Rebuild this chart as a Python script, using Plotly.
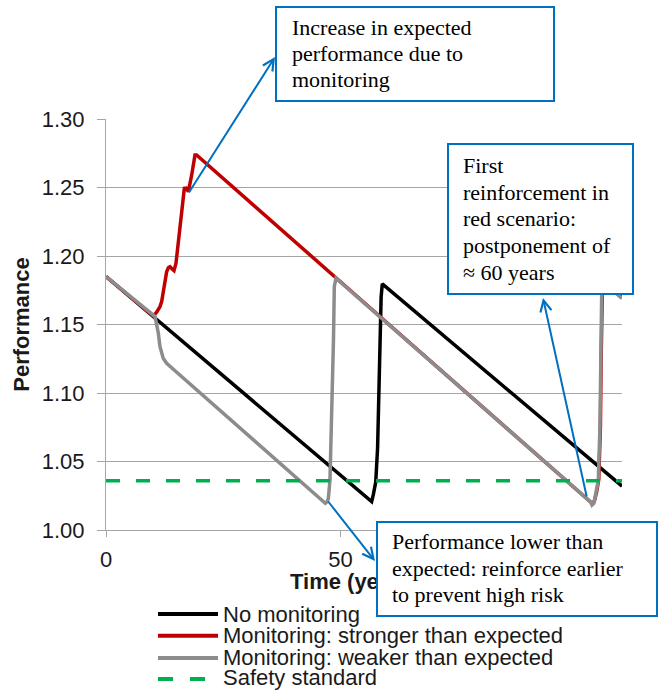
import plotly.graph_objects as go

# ---------------- data ----------------
no_monitoring_t = [0, 56.63, 57.0, 57.5, 57.9, 58.15, 58.4, 58.65, 58.9, 110]
no_monitoring_p = [1.185, 1.0207, 1.026, 1.035, 1.060, 1.100, 1.140, 1.170, 1.1796, 1.032]

stronger_t = [0, 10.09, 10.8, 11.5, 11.87, 12.36, 12.93, 13.3, 13.64, 14.1, 14.5, 14.92,
              15.42, 16.13, 16.7, 17.1, 17.55, 18.26, 18.97, 19.3, 48.82, 103.3, 103.6,
              104.1, 104.6, 105.05, 105.4, 105.55, 105.78, 106.05, 110]
stronger_p = [1.185, 1.1562, 1.159, 1.163, 1.1667, 1.1776, 1.1885, 1.1915, 1.1922, 1.1905,
              1.1893, 1.1947, 1.2117, 1.236, 1.2494, 1.2495, 1.247, 1.259, 1.2737, 1.2737,
              1.1849, 1.021, 1.0195, 1.021, 1.028, 1.037, 1.076, 1.124, 1.170, 1.181, 1.1695]

weaker_t = [0, 10.09, 10.45, 11.15, 11.5, 12.2, 12.93, 14.35, 46.4, 46.75, 47.1, 47.4,
            47.75, 47.97, 48.25, 48.5, 48.67, 49.03, 103.3, 103.6, 104.0, 104.46, 104.95,
            105.3, 105.44, 105.66, 105.95, 110]
weaker_p = [1.185, 1.1562, 1.1558, 1.1438, 1.134, 1.1253, 1.1217, 1.1173, 1.0208, 1.0195,
            1.0205, 1.023, 1.0365, 1.061, 1.098, 1.14, 1.1777, 1.1838, 1.0205, 1.0182,
            1.0195, 1.027, 1.0365, 1.0754, 1.1241, 1.170, 1.181, 1.169]

safety_t = [0, 110]
safety_p = [1.036, 1.036]

series_names = ["No monitoring", "Monitoring: stronger than expected",
                "Monitoring: weaker than expected", "Safety standard"]
series_colors = ["#000000", "#C00000", "#8C8C8C", "#00B050"]

x_ticks = [0, 50, 100]
y_ticks = [1.00, 1.05, 1.10, 1.15, 1.20, 1.25, 1.30]
y_tick_labels = ["1.00", "1.05", "1.10", "1.15", "1.20", "1.25", "1.30"]

box1_lines = ["Increase in expected", "performance due to", "monitoring"]
box2_lines = ["First", "reinforcement in", "red scenario:", "postponement of", "≈ 60 years"]
box3_lines = ["Performance lower than", "expected: reinforce earlier", "to prevent high risk"]

# ---------------- layout helpers (pixel -> paper) ----------------
W, H = 668, 690
L, R, T, B = 106, 46, 119, 160
PW, PH = W - L - R, H - T - B


def px(x):
    return (x - L) / PW


def py(y):
    return (H - B - y) / PH


SANS = "Liberation Sans, Arial, sans-serif"
SERIF = "Liberation Serif, Times New Roman, serif"
BLUE = "#0070C0"
GRID = "#A6A6A6"
TXT = "#1a1a1a"

fig = go.Figure()
data = [(no_monitoring_t, no_monitoring_p), (stronger_t, stronger_p),
        (weaker_t, weaker_p)]
for (t, p), name, col in zip(data, series_names[:3], series_colors[:3]):
    fig.add_trace(go.Scatter(x=t, y=p, mode="lines", name=name,
                             line=dict(color=col, width=3.5), cliponaxis=True))
fig.add_trace(go.Scatter(x=safety_t, y=safety_p, mode="lines", name=series_names[3],
                         line=dict(color=series_colors[3], width=3.5, dash="14px,16px")))

annotations = []
shapes = []

# x-axis title (as annotation so the text boxes can cover it)
annotations.append(dict(xref="paper", yref="paper", x=px(288), y=py(581.5),
                        xanchor="left", yanchor="middle", showarrow=False,
                        text="<b>Time (years)</b>",
                        font=dict(family=SANS, size=22, color=TXT)))

# text boxes (outer box pixel coords: left, top, right, bottom)
boxes = [((275, 6, 555, 102), box1_lines, 292, [27.6, 53.6, 79.6]),
         ((447, 143, 634, 295), box2_lines, 463, [165.3, 192.0, 218.6, 245.3, 272.0]),
         ((376, 521, 658, 617), box3_lines, 392, [541.6, 568.6, 594.3])]
for (x0, y0, x1, y1), lines, tx, ys in boxes:
    annotations.append(dict(xref="paper", yref="paper", x=px(x0), y=py(y0),
                            xanchor="left", yanchor="top", showarrow=False, text=" ",
                            width=x1 - x0 - 4, height=y1 - y0 - 4, borderpad=0,
                            bordercolor=BLUE, borderwidth=2, bgcolor="white"))
for (x0, y0, x1, y1), lines, tx, ys in boxes:
    for line, yc in zip(lines, ys):
        annotations.append(dict(xref="paper", yref="paper", x=px(tx - 1), y=py(yc),
                                xanchor="left", yanchor="middle", showarrow=False,
                                text=line, borderpad=0,
                                font=dict(family=SERIF, size=22, color="#000000")))

# arrows: head (x, y) and tail offset
arrows = [((275, 57), (-87, 137)), ((543, 298), (44, 200)), ((375, 561), (-48, -61))]
for (hx, hy), (ax, ay) in arrows:
    annotations.append(dict(xref="paper", yref="paper", x=px(hx), y=py(hy), ax=ax, ay=ay,
                            text="", showarrow=True, arrowhead=5, arrowsize=1.1,
                            arrowwidth=2, arrowcolor=BLUE, standoff=0))

# legend (drawn below the chart)
leg_rows = [614, 635.7, 658, 679]
leg_text_y = [614, 635.7, 657.4, 677.4]
for name, col, ly, ty in zip(series_names, series_colors, leg_rows, leg_text_y):
    shapes.append(dict(type="line", xref="paper", yref="paper", x0=px(158), x1=px(218),
                       y0=py(ly), y1=py(ly),
                       line=dict(color=col, width=4,
                                 dash="15px,17px" if name == "Safety standard" else "solid")))
    annotations.append(dict(xref="paper", yref="paper", x=px(221), y=py(ty),
                            xanchor="left", yanchor="middle", showarrow=False, text=name,
                            font=dict(family=SANS, size=22, color=TXT)))

fig.update_layout(
    width=W, height=H, margin=dict(l=L, r=R, t=T, b=B, pad=0),
    plot_bgcolor="white", paper_bgcolor="white", showlegend=False,
    font=dict(family=SANS, size=22, color=TXT),
    annotations=annotations, shapes=shapes,
    xaxis=dict(range=[0, 110], tickvals=x_ticks, showgrid=False, zeroline=False,
               showline=True, linecolor=GRID, linewidth=1, ticks="outside", ticklen=6,
               tickcolor=GRID, tickfont=dict(family=SANS, size=22, color=TXT),
               ticklabelstandoff=4),
    yaxis=dict(range=[1.0, 1.3], tickvals=y_ticks, ticktext=y_tick_labels,
               showgrid=True, gridcolor=GRID, gridwidth=1, zeroline=False,
               showline=True, linecolor=GRID, linewidth=1, ticks="outside", ticklen=8,
               tickcolor=GRID, tickfont=dict(family=SANS, size=22, color=TXT),
               ticklabelstandoff=8,
               title=dict(text="<b>Performance</b>", standoff=6,
                          font=dict(family=SANS, size=22, color=TXT))),
)

fig.write_html("out.html", config={"displayModeBar": False},
               post_script="document.body.style.margin='0px';"
                           "document.body.style.padding='0px';")
